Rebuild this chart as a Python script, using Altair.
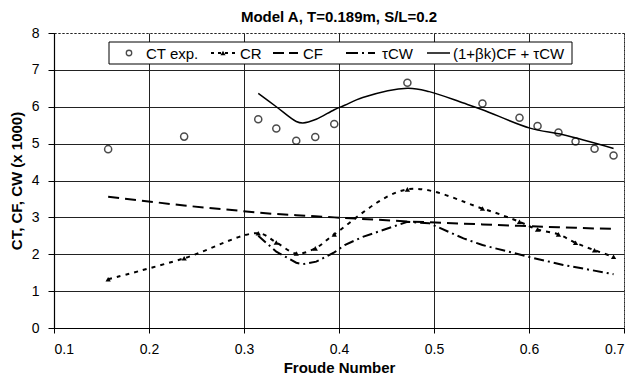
import altair as alt
import pandas as pd

# ---- data ----
fr_exp = [0.157, 0.237, 0.315, 0.334, 0.355, 0.375, 0.395, 0.472, 0.551, 0.590, 0.609, 0.631, 0.649, 0.669, 0.689]
ct_exp = [4.85, 5.19, 5.66, 5.41, 5.08, 5.18, 5.53, 6.65, 6.09, 5.70, 5.48, 5.30, 5.06, 4.86, 4.68]
cr_vals = [1.32, 1.89, 2.57, 2.32, 2.02, 2.16, 2.54, 3.76, 3.24, 2.88, 2.67, 2.54, 2.31, 2.11, 1.93]
cf_vals = [3.56, 3.32, 3.13, 3.09, 3.06, 3.03, 3.00, 2.89, 2.81, 2.77, 2.75, 2.73, 2.72, 2.70, 2.69]

fr_line = [0.315, 0.334, 0.355, 0.362, 0.376, 0.395, 0.406, 0.425, 0.472, 0.495, 0.531, 0.551, 0.601, 0.636, 0.689]
cw_vals = [2.50, 2.07, 1.77, 1.73, 1.80, 2.05, 2.25, 2.47, 2.88, 2.84, 2.43, 2.25, 1.92, 1.71, 1.46]
ct_line = [6.36, 6.00, 5.60, 5.56, 5.66, 5.92, 6.04, 6.25, 6.50, 6.41, 6.10, 5.92, 5.42, 5.24, 4.87]

x_ticks = [0.1, 0.2, 0.3, 0.4, 0.5, 0.6, 0.7]
y_ticks = [0, 1, 2, 3, 4, 5, 6, 7, 8]

title_text = "Model A, T=0.189m, S/L=0.2"
x_title = "Froude Number"
y_title = "CT, CF, CW (x 1000)"
legend_labels = ["CT exp.", "CR", "CF", "τCW", "(1+βk)CF  + τCW"]

FONT = "Liberation Sans"

df_exp = pd.DataFrame({"fr": fr_exp, "ct": ct_exp, "cr": cr_vals, "cf": cf_vals})
df_line = pd.DataFrame({"fr": fr_line, "cw": cw_vals, "ct": ct_line})

xs = alt.Scale(domain=[0.1, 0.7], nice=False, zero=False)
ys = alt.Scale(domain=[0, 8], nice=False)

x_axis = alt.Axis(values=x_ticks, format=".1f", title=x_title, tickSize=5, labelPadding=9,
                  titlePadding=4,
                  gridDash={"condition": {"test": "datum.value >= 0.69", "value": [2, 2]}, "value": []})
y_axis = alt.Axis(values=y_ticks, format="d", title=y_title, tickSize=6, labelPadding=9,
                  titlePadding=7,
                  gridDash={"condition": {"test": "datum.value == 8", "value": [2, 2]}, "value": []})

X = alt.X("fr:Q", scale=xs, axis=x_axis)

ct_points = alt.Chart(df_exp).mark_point(shape="circle", filled=False, size=50, color="black",
                                         strokeWidth=1.5).encode(
    x=X, y=alt.Y("ct:Q", scale=ys, axis=y_axis))

cr_line = alt.Chart(df_exp).mark_line(color="black", strokeWidth=2, strokeDash=[4, 5],
                                      interpolate="catmull-rom").encode(
    x=X, y=alt.Y("cr:Q", scale=ys, axis=y_axis))
cr_pts = alt.Chart(df_exp).mark_point(shape="triangle-up", filled=True, size=28, color="black",
                                      opacity=1).encode(
    x=X, y=alt.Y("cr:Q", scale=ys, axis=y_axis))

cf_line = alt.Chart(df_exp).mark_line(color="black", strokeWidth=2, strokeDash=[11, 6]).encode(
    x=X, y=alt.Y("cf:Q", scale=ys, axis=y_axis))

cw_line = alt.Chart(df_line).mark_line(color="black", strokeWidth=2, strokeDash=[10, 4, 2, 4]).encode(
    x=X, y=alt.Y("cw:Q", scale=ys, axis=y_axis))

ct_curve = alt.Chart(df_line).mark_line(color="black", strokeWidth=1.5,
                                        interpolate="catmull-rom").encode(
    x=X, y=alt.Y("ct:Q", scale=ys, axis=y_axis))

# ---- legend (drawn by hand) ----
one = pd.DataFrame({"a": [0]})
LY = 20
leg = [
    alt.Chart(one).mark_rect(fill="white", stroke="black", strokeWidth=1).encode(
        x=alt.value(55), x2=alt.value(518), y=alt.value(9), y2=alt.value(31)),
    alt.Chart(one).mark_point(shape="circle", filled=False, size=30, color="black", strokeWidth=1.3).encode(
        x=alt.value(75), y=alt.value(LY)),
    alt.Chart(one).mark_rule(color="black", strokeWidth=2, strokeDash=[3, 4]).encode(
        x=alt.value(157), x2=alt.value(181), y=alt.value(LY)),
    alt.Chart(one).mark_point(shape="triangle-up", filled=True, size=26, color="black", opacity=1).encode(
        x=alt.value(169), y=alt.value(LY)),
    alt.Chart(one).mark_rule(color="black", strokeWidth=2, strokeDash=[11, 5]).encode(
        x=alt.value(219), x2=alt.value(244), y=alt.value(LY)),
    alt.Chart(one).mark_rule(color="black", strokeWidth=2, strokeDash=[12, 4, 2, 4]).encode(
        x=alt.value(292), x2=alt.value(321), y=alt.value(LY)),
    alt.Chart(one).mark_rule(color="black", strokeWidth=1.5).encode(
        x=alt.value(373), x2=alt.value(396), y=alt.value(LY)),
]
text_x = [92, 186, 249, 328, 399]
for tx, lab in zip(text_x, legend_labels):
    leg.append(alt.Chart(one).mark_text(align="left", baseline="middle", fontSize=15, font=FONT,
                                        color="black").encode(
        x=alt.value(tx), y=alt.value(LY + 1), text=alt.value(lab)))

chart = alt.layer(
    cf_line, cw_line, cr_line, cr_pts, ct_curve, ct_points, *leg
).properties(
    width=570, height=295,
    title=alt.TitleParams(title_text, font=FONT, fontSize=15, fontWeight="bold", offset=1,
                          anchor="middle", color="black"),
    autosize=alt.AutoSizeParams(type="none"),
    padding={"left": 46, "top": 25, "right": 3, "bottom": 47},
).configure_view(
    stroke="#555", strokeDash=[2, 2], strokeWidth=1
).configure_axis(
    labelFont=FONT, titleFont=FONT, labelFontSize=14, titleFontSize=15,
    titleFontWeight="bold", labelColor="black", titleColor="black",
    domainColor="black", tickColor="black", gridColor="#222", gridWidth=1,
    gridOpacity=1, domainWidth=1.2
).configure_axisY(
    grid=True
)

chart.save("out.html", embed_options={"renderer": "svg", "actions": False})
